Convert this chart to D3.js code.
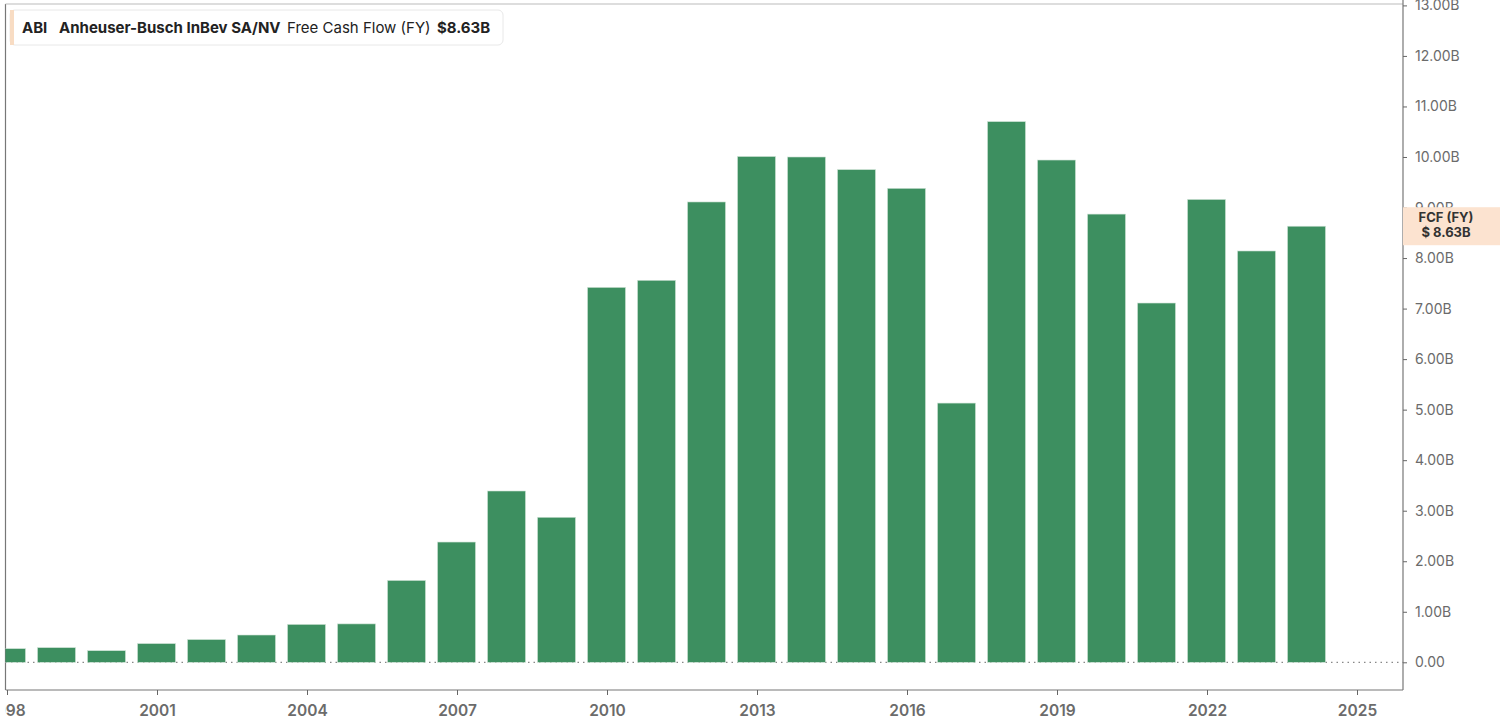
<!DOCTYPE html>
<html>
<head>
<meta charset="utf-8">
<script src="https://cdn.jsdelivr.net/npm/d3@7"></script>
<style>
html,body{margin:0;padding:0;background:#fff;}
svg{display:block;font-family:Inter,"Noto Sans",sans-serif;}
</style>
</head>
<body>
<svg id="chart" width="1500" height="728"></svg>
<script>
const years = [1998,1999,2000,2001,2002,2003,2004,2005,2006,2007,2008,2009,2010,2011,2012,2013,2014,2015,2016,2017,2018,2019,2020,2021,2022,2023,2024];
const fcf = [0.27,0.29,0.23,0.37,0.45,0.54,0.75,0.76,1.62,2.38,3.39,2.87,7.42,7.56,9.11,10.01,10.0,9.75,9.38,5.13,10.70,9.94,8.87,7.11,9.16,8.14,8.63];
const yTicks = [0,1,2,3,4,5,6,7,8,9,10,11,12,13];
const xTicks = [1998,2001,2004,2007,2010,2013,2016,2019,2022,2025];
const legendParts = [
  {t:"ABI", w:700},
  {t:"Anheuser-Busch InBev SA/NV", w:700},
  {t:"Free Cash Flow (FY)", w:400},
  {t:"$8.63B", w:700}
];
const tagLines = ["FCF (FY)", "$ 8.63B"];

(function(){
const svg = d3.select("#chart");
const pl = 5.5, pr = 1403, pt = 4, pb = 690;

const x = d3.scaleLinear().domain([1998, 2025]).range([7, 1357]);
const y = d3.scaleLinear().domain([0, 13]).range([662.3, 5.4]);
const step = x(1999) - x(1998);
const bw = step * 0.76;

const defs = svg.append("defs");
defs.append("clipPath").attr("id","plot")
  .append("rect").attr("x", pl).attr("y", pt).attr("width", pr-pl).attr("height", pb-pt);
defs.append("clipPath").attr("id","xlab")
  .append("rect").attr("x", pl).attr("y", -10).attr("width", 1500).attr("height", 60);

// frame
svg.append("line").attr("x1", pl).attr("x2", pl).attr("y1", pt).attr("y2", pb).attr("stroke","#777").attr("stroke-width",1.2);
svg.append("line").attr("x1", pl).attr("x2", pr).attr("y1", pt).attr("y2", pt).attr("stroke","#bbb").attr("stroke-width",1);

// zero line dotted
svg.append("line").attr("x1", pl).attr("x2", pr).attr("y1", y(0)).attr("y2", y(0))
  .attr("stroke","#888").attr("stroke-width",1.2).attr("stroke-dasharray","1.5,4");

// bars
svg.append("g").attr("clip-path","url(#plot)")
  .selectAll("rect").data(years).join("rect")
  .attr("x", (d) => x(d) - 0.5 - bw/2)
  .attr("width", bw)
  .attr("y", (d,i) => y(fcf[i]))
  .attr("height", (d,i) => y(0) - y(fcf[i]))
  .attr("fill", "#3d8f60")
  .attr("stroke", "#cfe3d6").attr("stroke-width", 0.6);

// right axis
const yAxis = d3.axisRight(y).tickValues(yTicks)
  .tickFormat(d => d === 0 ? "0.00" : d.toFixed(2) + "B").tickSize(4).tickPadding(8);
const ga = svg.append("g").attr("transform", `translate(${pr},0)`).call(yAxis);
ga.select(".domain").attr("stroke","#777").attr("stroke-width",1.2).attr("d", `M0,0V${pb}`);
ga.selectAll(".tick line").attr("stroke","#666");
ga.selectAll(".tick text").attr("fill","#6b6b6b").attr("font-size",14).attr("font-family","Inter,sans-serif");

// bottom axis
const xAxis = d3.axisBottom(x).tickValues(xTicks).tickFormat(d3.format("d")).tickSize(5).tickPadding(10);
const gx = svg.append("g").attr("transform", `translate(0,${pb})`).attr("clip-path","url(#xlab)").call(xAxis);
gx.select(".domain").attr("stroke","#777").attr("stroke-width",1.2).attr("d", `M${pl},0H${pr}`);
gx.selectAll(".tick line").attr("stroke","#666");
gx.selectAll(".tick text").attr("fill","#6b6b6b").attr("font-size",15.5).attr("font-weight",600).attr("font-family","Inter,sans-serif");

// legend box
const lg = svg.append("g");
lg.append("rect").attr("x",10).attr("y",10).attr("width",493).attr("height",35).attr("rx",5)
  .attr("fill","#fff").attr("stroke","#e8e8e8");
lg.append("rect").attr("x",10).attr("y",10).attr("width",4).attr("height",35).attr("fill","#f8dcc3");
const xs = [22, 59, 287, 437];
legendParts.forEach((p,i) => {
  lg.append("text").attr("x", xs[i]).attr("y", 33).attr("font-size", 15).attr("fill", "#222")
    .attr("font-weight", p.w).text(p.t);
});

// right tag
const tg = svg.append("g");
tg.append("rect").attr("x", pr).attr("y", y(8.63) - 19).attr("width", 97).attr("height", 38).attr("fill","#fce3d0");
tagLines.forEach((t,i) => {
  tg.append("text").attr("x", 1446).attr("y", y(8.63) - 4 + i*15).attr("text-anchor","middle")
    .attr("font-size",13).attr("font-weight",700).attr("fill","#333").text(t);
});
})();
</script>
</body>
</html>
